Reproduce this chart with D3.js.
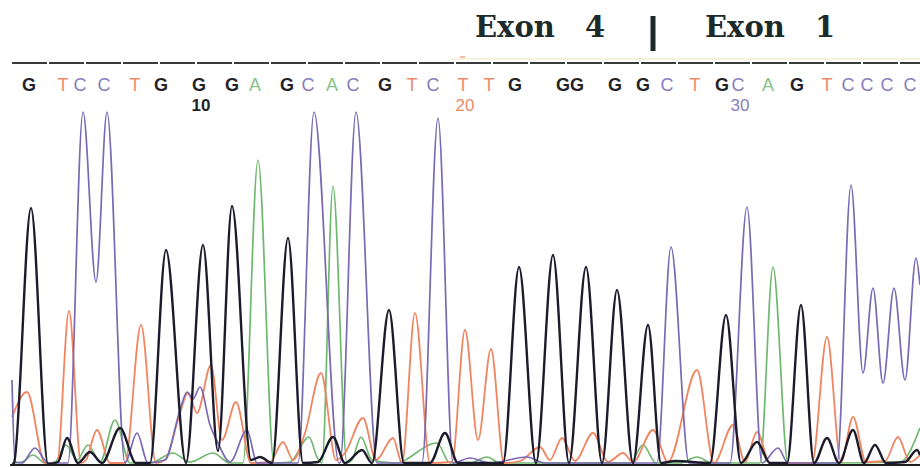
<!DOCTYPE html>
<html>
<head>
<meta charset="utf-8">
<script src="https://cdn.jsdelivr.net/npm/d3@7"></script>
<style>
  html, body { margin: 0; padding: 0; background: #fff; }
  svg { display: block; }
</style>
</head>
<body>
<div id="chart"></div>
<script>
// base calls and their scan positions
const bases = 'GTCCTGGGAGCACGTCTTGGGGGCTGCAGTCCCC'.split('');
const baseScans = [29, 63, 80, 104, 135, 161, 199, 232, 255, 287, 308, 332, 353, 385, 412, 433, 463,
  489, 515, 563, 577, 615, 643, 667, 695, 722, 738, 768, 797, 827, 848, 867, 887, 910];
const firstBaseNumber = 4;
const numberedBases = [10, 20, 30];
const exonLabels = ['Exon 4', 'Exon 1'];

// trace points [scan, signal] for each dye channel (peaks and valleys)
const traceG = [[12,0],[14,2],[31,257],[48,1],[58,3],[67,27],[78,2],[90,13],[102,2],[120,37],[136,2],[150,2],
  [166,215],[186,2],[203,220],[218,14],[232,259],[251,5],[260,8],[272,2],[288,227],[303,2],[318,3],[333,28],
  [345,2],[362,15],[372,2],[389,155],[404,2],[430,2],[445,32],[458,2],[503,2],[519,198],[536,2],[553,210],
  [569,2],[586,198],[602,2],[617,175],[633,2],[648,140],[661,2],[675,4],[710,2],[726,150],[741,2],[757,23],
  [770,2],[787,2],[801,160],[814,2],[827,27],[839,2],[853,35],[864,2],[875,20],[886,2],[905,3],[917,15],[920,10]];
const traceC = [[12,85],[15,3],[22,2],[35,17],[48,2],[68,2],[83,400],[96,183],[107,400],[125,2],[137,32],
  [148,2],[165,5],[180,55],[187,73],[193,66],[200,78],[210,40],[218,22],[230,3],[247,35],[257,2],[298,2],
  [314,520],[339,2],[340,2],[356,405],[377,2],[422,2],[438,347],[453,2],[470,7],[490,2],[527,8],[545,2],
  [657,2],[671,218],[689,2],[730,2],[747,258],[762,2],[778,17],[788,2],[837,2],[851,280],[863,92],[873,177],
  [883,82],[894,177],[905,85],[916,207],[920,180]];
const traceA = [[12,2],[22,3],[33,10],[45,2],[55,3],[66,20],[77,5],[88,20],[100,3],[115,45],[130,2],[150,2],
  [173,12],[190,3],[213,12],[230,2],[243,2],[258,305],[274,2],[290,3],[309,28],[317,8],[322,2],[333,279],
  [347,2],[352,5],[361,28],[372,5],[395,2],[437,22],[450,2],[470,2],[487,8],[500,2],[630,2],[643,20],[656,2],
  [680,2],[697,8],[712,2],[760,2],[773,198],[788,2],[830,2],[900,3],[920,37]];
const traceT = [[12,48],[27,73],[45,2],[57,2],[69,154],[81,2],[86,5],[97,35],[110,2],[125,2],[141,140],[156,2],
  [165,5],[178,45],[188,72],[197,52],[211,100],[222,25],[236,63],[251,2],[270,3],[283,23],[293,5],[305,32],
  [321,92],[336,5],[345,12],[363,47],[376,5],[393,27],[402,2],[415,152],[430,2],[452,3],[465,135],[478,25],
  [491,116],[504,2],[520,4],[540,18],[550,5],[562,27],[575,4],[593,32],[608,3],[623,12],[633,3],[653,35],
  [668,3],[697,95],[714,2],[733,40],[745,3],[757,33],[770,2],[812,2],[827,128],[841,3],[853,48],[866,3],
  [885,4],[898,28],[910,3],[920,10]];

const colours = {G: '#1c1b2c', C: '#7a69b4', A: '#70b870', T: '#ef8561'};
const letterColours = {G: '#222226', C: '#8a7bbd', A: '#86c386', T: '#ec8a6a'};

const width = 920, height = 468;
const margin = {top: 112, bottom: 3, left: 0, right: 0};

const svg = d3.select('#chart').append('svg')
  .attr('width', width)
  .attr('height', height);

const x = d3.scaleLinear().domain([0, 920]).range([margin.left, width - margin.right]);
const y = d3.scaleLinear().domain([0, 353]).range([height - margin.bottom, margin.top]).clamp(true);

// header: exon boundary
const title = svg.append('g')
  .style('font-family', '"DejaVu Serif", serif')
  .style('font-weight', 'bold')
  .style('font-size', '29px')
  .attr('fill', '#1d2a2c');
exonLabels.forEach((label, i) => {
  const parts = label.split(' ');
  const x0 = i === 0 ? 475 : 705;
  title.append('text').attr('x', x0).attr('y', 37).text(parts[0]);
  title.append('text').attr('x', x0 + 110).attr('y', 37).text(parts[1]);
});
svg.append('line')
  .attr('x1', 653).attr('x2', 653)
  .attr('y1', 16).attr('y2', 51)
  .attr('stroke', '#1d2a2c')
  .attr('stroke-width', 5);

// ruler line above the base calls
svg.append('line')
  .attr('x1', 450).attr('x2', 920)
  .attr('y1', 59).attr('y2', 59)
  .attr('stroke', '#f1e6bb')
  .attr('stroke-width', 1);
svg.append('line')
  .attr('x1', x(baseScans[16]) - 3).attr('x2', x(baseScans[16]) + 2)
  .attr('y1', 57).attr('y2', 57)
  .attr('stroke', '#ec8a6a')
  .attr('stroke-width', 1.2);
svg.append('line')
  .attr('x1', x(12)).attr('x2', x(920))
  .attr('y1', 63).attr('y2', 63)
  .attr('stroke', '#3a3a3e')
  .attr('stroke-width', 2)
  .attr('stroke-dasharray', '35,2');

// base calls
svg.append('g')
  .style('font-family', '"Liberation Sans", Arial, sans-serif')
  .style('font-size', '18px')
  .selectAll('text')
  .data(bases)
  .join('text')
    .attr('x', (d, i) => x(baseScans[i]))
    .attr('y', 91)
    .attr('text-anchor', 'middle')
    .attr('fill', (d) => letterColours[d])
    .style('font-weight', (d) => d === 'G' ? 'bold' : 'normal')
    .text((d) => d);

// base numbering
svg.append('g')
  .style('font-family', '"Liberation Sans", Arial, sans-serif')
  .style('font-size', '17px')
  .selectAll('text')
  .data(numberedBases)
  .join('text')
    .attr('x', (d) => x(baseScans[d - firstBaseNumber]) + 2)
    .attr('y', 111)
    .attr('text-anchor', 'middle')
    .attr('fill', (d) => letterColours[bases[d - firstBaseNumber]])
    .style('font-weight', (d) => bases[d - firstBaseNumber] === 'G' ? 'bold' : 'normal')
    .text((d) => d);

// traces
const line = d3.line()
  .x((d) => x(d[0]))
  .y((d) => y(d[1]))
  .curve(d3.curveMonotoneX);

const traces = [
  {base: 'A', points: traceA, w: 1.7},
  {base: 'T', points: traceT, w: 1.8},
  {base: 'C', points: traceC, w: 1.7},
  {base: 'G', points: traceG, w: 2.4}
];

traces.forEach((t) => {
  svg.append('path')
    .datum(t.points)
    .attr('fill', 'none')
    .attr('stroke', colours[t.base])
    .attr('stroke-width', t.w)
    .attr('stroke-linejoin', 'round')
    .attr('d', line);
});

// baseline
svg.append('line')
  .attr('x1', x(10)).attr('x2', x(920))
  .attr('y1', y(0)).attr('y2', y(0))
  .attr('stroke', '#1e1e22')
  .attr('stroke-width', 2);
</script>
</body>
</html>
